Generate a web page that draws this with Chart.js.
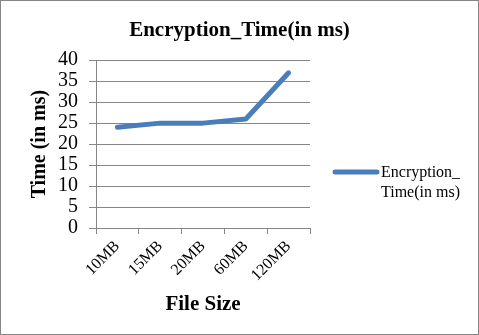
<!DOCTYPE html>
<html>
<head>
<meta charset="utf-8">
<script src="https://cdn.jsdelivr.net/npm/chart.js@4.4.0/dist/chart.umd.min.js"></script>
<style>
    body { margin: 0; background: #fff; }
    #wrap { width: 479px; height: 335px; border: 1px solid #868686; box-sizing: border-box; background: #fff; }
    canvas { display: block; }
</style>
</head>
<body>
<div id="wrap"><canvas id="encChart" width="477" height="333"></canvas></div>
<script>
// chart data
const fileSizes = ['10MB', '15MB', '20MB', '60MB', '120MB'];
const encryptionTimes = [24, 25, 25, 26, 37];
const seriesLabel = 'Encryption_Time(in ms)';
const yMin = 0;
const yMax = 40;
const yStep = 5;

const serif = "'Liberation Serif', 'Times New Roman', serif";
const lineBlue = '#4a7ebb';
const gridGray = '#868686';

Chart.defaults.font.family = serif;
Chart.defaults.color = '#000';

// Excel-style legend on the right, text wrapped after the underscore
const sideLegend = {
    id: 'sideLegend',
    afterDraw(chart) {
        const ctx = chart.ctx;
        const area = chart.chartArea;
        const ds = chart.data.datasets[0];
        const cut = ds.label.indexOf('_') + 1;
        const lines = [ds.label.slice(0, cut), ds.label.slice(cut)];
        const x0 = area.right + 25;
        const y0 = 171;
        ctx.save();
        ctx.strokeStyle = ds.borderColor;
        ctx.lineWidth = 5;
        ctx.lineCap = 'round';
        ctx.beginPath();
        ctx.moveTo(x0, y0);
        ctx.lineTo(x0 + 42, y0);
        ctx.stroke();
        ctx.fillStyle = '#000';
        ctx.font = '16px ' + serif;
        ctx.textBaseline = 'middle';
        ctx.textAlign = 'left';
        lines.forEach((t, i) => ctx.fillText(t, x0 + 46, y0 + 1 + i * 20));
        ctx.restore();
    }
};

new Chart(document.getElementById('encChart').getContext('2d'), {
    type: 'line',
    data: {
        labels: fileSizes,
        datasets: [{
            label: seriesLabel,
            data: encryptionTimes,
            borderColor: lineBlue,
            borderWidth: 5,
            borderCapStyle: 'round',
            borderJoinStyle: 'round',
            pointRadius: 0,
            tension: 0,
            fill: false
        }]
    },
    options: {
        responsive: false,
        animation: false,
        layout: { padding: 0 },
        plugins: {
            legend: { display: false },
            tooltip: { enabled: false },
            title: {
                display: true,
                text: 'Encryption_Time(in ms)',
                font: { size: 21, weight: 'bold' },
                color: '#000',
                padding: { top: 17, bottom: 17 }
            }
        },
        scales: {
            x: {
                offset: true,
                grid: {
                    offset: true,
                    drawOnChartArea: false,
                    drawTicks: true,
                    tickLength: 6,
                    color: gridGray
                },
                border: { color: gridGray },
                ticks: {
                    font: { size: 16 },
                    color: '#000',
                    minRotation: 45,
                    maxRotation: 45,
                    padding: 3,
                    autoSkip: false
                },
                title: {
                    display: true,
                    text: 'File Size',
                    font: { size: 21, weight: 'bold' },
                    color: '#000',
                    padding: { top: 0, bottom: 17 }
                },
                afterFit: s => { s.height = 106; }
            },
            y: {
                min: yMin,
                max: yMax,
                ticks: {
                    stepSize: yStep,
                    autoSkip: false,
                    font: { size: 20 },
                    color: '#000',
                    padding: 11
                },
                grid: {
                    color: gridGray,
                    tickLength: 7
                },
                border: { color: gridGray },
                title: {
                    display: true,
                    text: 'Time (in ms)',
                    font: { size: 20, weight: 'bold' },
                    color: '#000',
                    padding: { top: 27, bottom: 0 }
                },
                afterFit: s => { s.width = 95; }
            },
            spacer: {
                type: 'linear',
                position: 'right',
                display: true,
                grid: { display: false },
                border: { display: false },
                ticks: { display: false },
                afterFit: s => { s.width = 168; }
            }
        }
    },
    plugins: [sideLegend]
});
</script>
</body>
</html>
